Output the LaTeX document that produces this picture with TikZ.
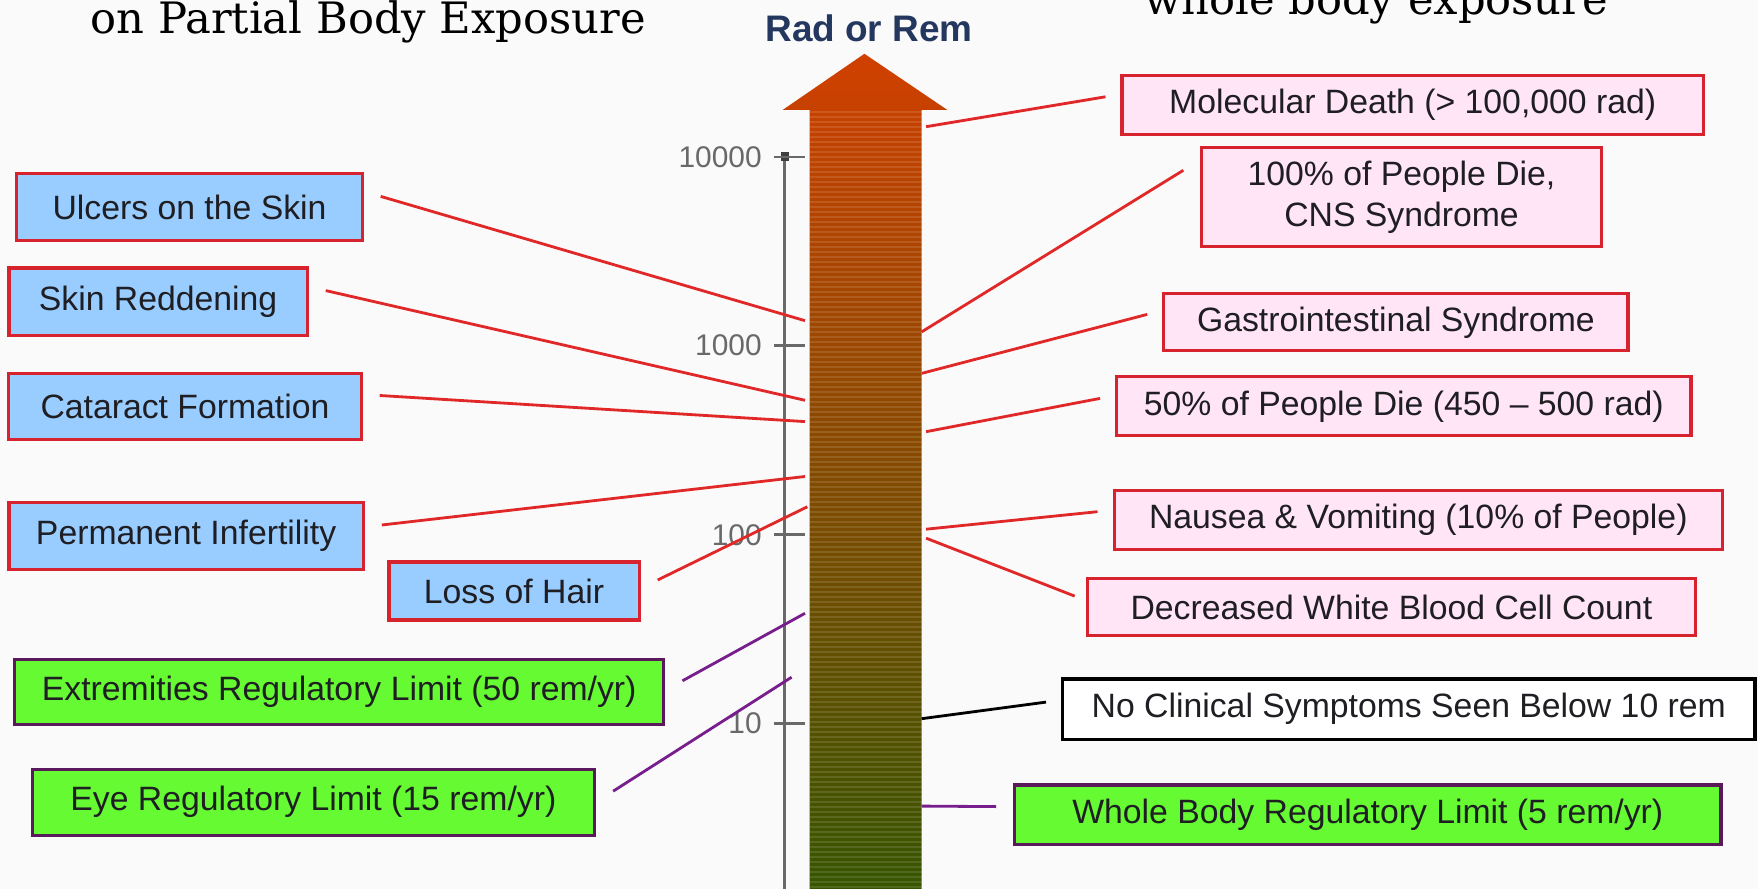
\documentclass[tikz,border=0pt]{standalone}
\usepackage{fontspec}
\setmainfont{Liberation Sans}
\newfontfamily\slabfont{DejaVu Serif}
\definecolor{skyfill}{RGB}{153,204,255}
\definecolor{pinkfill}{RGB}{255,229,245}
\definecolor{limitgreen}{RGB}{102,250,51}
\definecolor{boxred}{RGB}{215,35,45}
\definecolor{limitpurple}{RGB}{90,25,90}
\definecolor{linered}{RGB}{225,40,40}
\definecolor{linepurple}{RGB}{120,30,140}
\definecolor{axisgrey}{RGB}{105,105,105}
\definecolor{textgrey}{RGB}{30,30,35}
\definecolor{radblue}{RGB}{35,55,95}
\definecolor{hotred}{RGB}{208,64,0}
\definecolor{midbrown}{RGB}{138,75,8}
\definecolor{darkolive}{RGB}{55,85,0}
\tikzset{
  box/.style={draw, line width=0.9pt, inner sep=2pt, text=textgrey,
    font=\fontsize{9.6}{11.5}\selectfont, align=center},
  partbox/.style={box, draw=boxred, fill=skyfill},
  wholebox/.style={box, draw=boxred, fill=pinkfill},
  limitbox/.style={box, draw=limitpurple, fill=limitgreen},
  plainbox/.style={box, draw=black, fill=white},
  redline/.style={draw=linered, line width=0.8pt},
  purpleline/.style={draw=linepurple, line width=0.8pt},
}
\begin{document}
\begin{tikzpicture}[x=0.01cm,y=-0.01cm]
  \useasboundingbox (0,0) rectangle (1758,889);
  \clip (0,0) rectangle (1758,889);
  \fill[white!98!black] (0,0) rectangle (1758,889);
  % titles
  \node[anchor=base west, inner sep=0pt, font=\slabfont\fontsize{12.3}{14}\selectfont] (parttitle) at (89.7,33.5) {on Partial Body Exposure};
  \node[anchor=base west, inner sep=0pt, font=\slabfont\fontsize{12.3}{14}\selectfont] (wholetitle) at (1143.6,14.5) {whole body exposure};
  \node[text=radblue, font=\bfseries\fontsize{10.5}{12}\selectfont] (radrem) at (869,28) {Rad or Rem};
  % dose arrow
  \shade[top color=hotred, middle color=midbrown, bottom color=darkolive]
    (809.5,889) -- (809.5,110) -- (782.6,110) -- (864.4,53.8) -- (947.4,110)
    -- (921.6,110) -- (921.6,889) -- cycle;
  \foreach \s in {0,...,155}
    \draw[white, opacity=.12, line width=0.8pt] (809.5,{112+5*\s}) -- (921.6,{112+5*\s});
  % scale
  \draw[axisgrey, line width=0.8pt] (784.8,157) -- (784.8,889);
  \fill[axisgrey!60!black] (780.5,152.5) rectangle (789.1,161.5);
  \foreach \v/\y in {10000/157,1000/345.3,100/534.8,10/723.2}
    \draw[axisgrey, line width=0.8pt] (773.6,\y) -- (805,\y)
    (773.6,\y) node[left, inner sep=3pt, text=axisgrey, font=\fontsize{8.5}{10}\selectfont]{\v};
  % boxes
  \foreach \n/\x/\y/\w/\h/\t in {ulcers/189.5/207.4/3.45/.67/{Ulcers on the Skin},
      redden/158.1/301.6/2.98/.67/{Skin Reddening},
      cataract/185/406.5/3.52/.66/{Cataract Formation},
      infert/186.1/536/3.54/.67/{Permanent Infertility},
      hair/514/591/2.50/.58/{Loss of Hair}}
    \node[partbox, minimum width=\w cm, minimum height=\h cm] (\n) at (\x,\y) {\t};
  \foreach \n/\x/\y/\w/\h/\t in {extrem/339.2/691.8/6.49/.65/{Extremities Regulatory Limit (50 rem/yr)},
      eye/313.4/802.2/5.62/.66/{Eye Regulatory Limit (15 rem/yr)},
      wholebody/1367.8/814.6/7.06/.59/{Whole Body Regulatory Limit (5 rem/yr)}}
    \node[limitbox, minimum width=\w cm, minimum height=\h cm] (\n) at (\x,\y) {\t};
  \foreach \n/\x/\y/\w/\h/\t in {molecular/1412.7/104.8/5.81/.59/{Molecular Death (> 100,000 rad)},
      cns/1401.5/197.3/3.99/.99/{100\% of People Die,\\CNS Syndrome},
      gastro/1395.9/322.4/4.64/.57/{Gastrointestinal Syndrome},
      half/1403.8/406.4/5.74/.59/{50\% of People Die (450 -- 500 rad)},
      nausea/1418.3/519.7/6.08/.59/{Nausea \& Vomiting (10\% of People)},
      wbc/1391.4/607.1/6.08/.57/{Decreased White Blood Cell Count}}
    \node[wholebox, minimum width=\w cm, minimum height=\h cm] (\n) at (\x,\y) {\t};
  \node[plainbox, minimum width=6.92cm, minimum height=.60cm] (noclin) at (1408.8,709.1) {No Clinical Symptoms Seen Below 10 rem};
  % where the connectors meet the scale
  \path (805,320.7) coordinate (a1) (805,400.3) coordinate (a2) (805,421.6) coordinate (a3)
    (805,476.5) coordinate (a4) (807.3,506.8) coordinate (a5) (805,613.3) coordinate (a6)
    (791.6,677.2) coordinate (a7);
  \path (926.1,126.7) coordinate (b1) (921.6,331.9) coordinate (b2) (921.6,373.4) coordinate (b3)
    (926.1,431.7) coordinate (b4) (926.1,529.2) coordinate (b5) (926.1,538.2) coordinate (b6)
    (921.6,718.7) coordinate (b7) (921.6,806.1) coordinate (b8);
  % connectors
  \foreach \n/\e in {ulcers/a1,redden/a2,cataract/a3,infert/a4,hair/a5}
    \draw[redline] ([shift={(17,-11)}]\n.east) -- (\e);
  \foreach \n/\e in {extrem/a6,eye/a7}
    \draw[purpleline] ([shift={(17,-11)}]\n.east) -- (\e);
  \foreach \n/\e in {molecular/b1,gastro/b3,half/b4,nausea/b5}
    \draw[redline] ([shift={(-15,-8)}]\n.west) -- (\e);
  \draw[redline] ([shift={(-17,-27)}]cns.west) -- (b2);
  \draw[redline] ([shift={(-11,-11)}]wbc.west) -- (b6);
  \draw[black, line width=0.8pt] ([shift={(-15,-7)}]noclin.west) -- (b7);
  \draw[purpleline] ([shift={(-17,-8)}]wholebody.west) -- (b8);
\end{tikzpicture}
\end{document}
